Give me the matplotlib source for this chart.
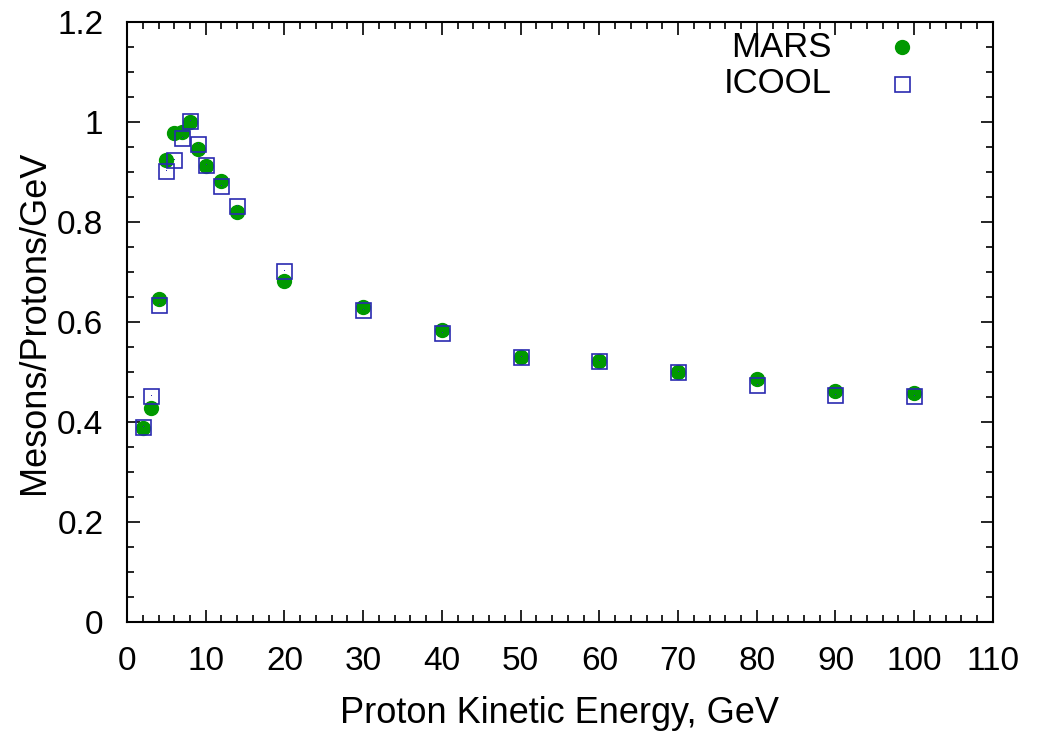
import numpy as np
import matplotlib.pyplot as plt
from matplotlib.ticker import MultipleLocator

plt.rcParams["font.family"] = ["Liberation Sans", "DejaVu Sans"]

# proton kinetic energy (GeV)
energy = [2, 3, 4, 5, 6, 7, 8, 9, 10, 12, 14, 20, 30, 40, 50, 60, 70, 80, 90, 100]
# meson yield per proton per GeV
mars = [0.389, 0.429, 0.646, 0.924, 0.977, 0.980, 1.000, 0.945, 0.911, 0.881, 0.819,
        0.682, 0.630, 0.584, 0.531, 0.523, 0.500, 0.487, 0.463, 0.459]
icool = [0.390, 0.452, 0.634, 0.902, 0.923, 0.967, 1.001, 0.955, 0.914, 0.872, 0.832,
         0.702, 0.625, 0.579, 0.531, 0.523, 0.500, 0.474, 0.455, 0.452]

green = "#009900"
blue = "#2a2ab0"

fig = plt.figure(figsize=(10.42, 7.31), dpi=100)
ax = fig.add_axes([0.1219, 0.149, 0.831, 0.821])

ax.plot(energy, mars, "o", ms=10, color=green, mec=green, zorder=3)
ax.plot(energy, icool, "s", ms=10.8, mfc="none", mec=blue, mew=1.2, zorder=4)
ax.plot(energy, icool, ",", color=blue, zorder=5)

ax.set_xlim(0, 110)
ax.set_ylim(0, 1.2)
ax.xaxis.set_major_locator(MultipleLocator(10))
ax.xaxis.set_minor_locator(MultipleLocator(2))
ax.yaxis.set_major_locator(MultipleLocator(0.2))
ax.yaxis.set_minor_locator(MultipleLocator(0.05))
ax.yaxis.set_major_formatter(plt.FuncFormatter(lambda v, p: f"{v:g}"))

ax.tick_params(which="both", direction="in", top=True, right=True, width=1.2,
               labelsize=24)
ax.tick_params(which="major", length=9, pad=17)
ax.tick_params(which="minor", length=5)
for s in ax.spines.values():
    s.set_linewidth(1.5)

ax.set_xlabel("Proton Kinetic Energy, GeV", fontsize=26, labelpad=14)
ax.set_ylabel("Mesons/Protons/GeV", fontsize=26, labelpad=4)

# key in the upper right corner
ax.text(0.814, 0.958, "MARS", transform=ax.transAxes, ha="right", va="center", fontsize=25)
ax.text(0.814, 0.897, "ICOOL", transform=ax.transAxes, ha="right", va="center", fontsize=25)
ax.plot([0.895], [0.958], "o", ms=10, color=green, transform=ax.transAxes, clip_on=False)
ax.plot([0.895], [0.897], "s", ms=10.8, mfc="none", mec=blue, mew=1.2,
        transform=ax.transAxes, clip_on=False)

fig.savefig("out.png", dpi=100)
